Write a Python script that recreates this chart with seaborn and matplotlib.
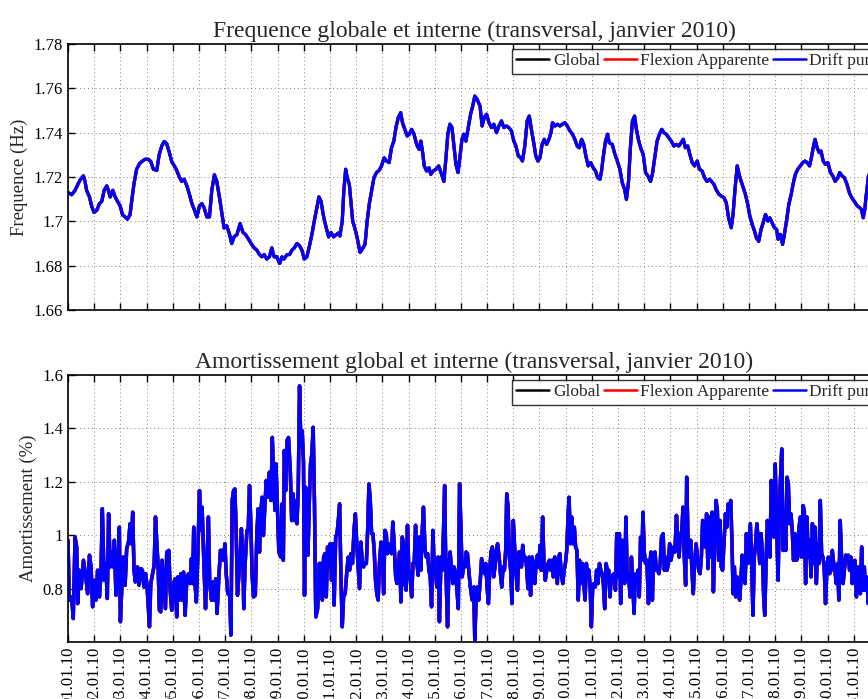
import pandas as pd
import matplotlib
matplotlib.use("agg")
import matplotlib.pyplot as plt
import matplotlib.dates as mdates
import seaborn as sns

# --- frequency (top panel), days since 01.01.2010 and Hz ---
freq_days = [
    0.00, 0.14, 0.27, 0.39, 0.48, 0.59, 0.65, 0.71, 0.82, 0.90,
    0.99, 1.10, 1.20, 1.29, 1.38, 1.48, 1.54, 1.61, 1.71, 1.80,
    1.89, 1.99, 2.08, 2.18, 2.27, 2.37, 2.43, 2.52, 2.62, 2.73,
    2.82, 2.94, 3.07, 3.16, 3.26, 3.39, 3.48, 3.58, 3.67, 3.77,
    3.87, 3.96, 4.06, 4.15, 4.25, 4.34, 4.43, 4.54, 4.64, 4.73,
    4.83, 4.92, 5.02, 5.11, 5.20, 5.30, 5.40, 5.49, 5.59, 5.68,
    5.78, 5.87, 5.96, 6.06, 6.17, 6.25, 6.34, 6.45, 6.57, 6.68,
    6.78, 6.89, 6.99, 7.11, 7.21, 7.31, 7.40, 7.49, 7.59, 7.69,
    7.78, 7.87, 7.97, 8.08, 8.17, 8.25, 8.36, 8.46, 8.55, 8.64,
    8.74, 8.84, 8.93, 9.02, 9.12, 9.22, 9.31, 9.40, 9.50, 9.58,
    9.66, 9.76, 9.86, 9.95, 10.04, 10.14, 10.24, 10.37,
    10.38, 10.47, 10.53, 10.60, 10.66, 10.74, 10.80, 10.87, 10.95, 11.04,
    11.15, 11.23, 11.34, 11.42, 11.50, 11.59, 11.68, 11.78, 11.88, 11.97,
    12.07, 12.16, 12.26, 12.35, 12.44, 12.52, 12.61, 12.70, 12.77, 12.86,
    12.95, 13.03, 13.12, 13.21, 13.31, 13.40, 13.47, 13.54, 13.60, 13.69,
    13.78, 13.85, 13.94, 14.05, 14.15, 14.24, 14.35, 14.43, 14.50, 14.58,
    14.66, 14.73, 14.81, 14.89, 14.96, 15.04, 15.11, 15.19, 15.28, 15.37,
    15.45, 15.53, 15.62, 15.73, 15.81, 15.89, 15.98, 16.07, 16.17, 16.26,
    16.36, 16.45, 16.55, 16.64, 16.74, 16.83, 16.93, 17.02, 17.10, 17.19,
    17.28, 17.35, 17.44, 17.53, 17.61, 17.70, 17.79, 17.86, 17.94, 18.02,
    18.10, 18.18, 18.27, 18.36, 18.44, 18.50, 18.59, 18.68, 18.78, 18.87,
    18.97, 19.06, 19.16, 19.26, 19.35, 19.44, 19.52, 19.61, 19.69, 19.77,
    19.86, 19.95, 20.05, 20.14, 20.22, 20.31, 20.37, 20.43, 20.52, 20.60, 20.66,
    20.78, 20.86, 20.97, 21.07, 21.16, 21.25, 21.32, 21.40, 21.47, 21.55,
    21.63, 21.70, 21.79, 21.88, 21.96, 22.05, 22.14, 22.24, 22.31, 22.40,
    22.49, 22.58, 22.67, 22.75, 22.84, 22.94, 23.03, 23.13, 23.23, 23.32,
    23.41, 23.49, 23.57, 23.66, 23.74, 23.83, 23.92, 24.02, 24.11, 24.21,
    24.30, 24.40, 24.49, 24.57, 24.66, 24.74, 24.85, 24.94, 25.04, 25.13,
    25.22, 25.32, 25.39, 25.47, 25.55, 25.62, 25.70, 25.78, 25.86, 25.95,
    26.03, 26.12, 26.21, 26.28, 26.37, 26.46, 26.54, 26.63, 26.72, 26.79,
    26.88, 26.97, 27.05, 27.11, 27.20, 27.28, 27.35, 27.43, 27.52, 27.61,
    27.68, 27.77, 27.86, 27.96, 28.05, 28.14, 28.22, 28.31, 28.38, 28.45,
    28.52, 28.60, 28.68, 28.75, 28.83, 28.92, 29.01, 29.11, 29.20, 29.29,
    29.39, 29.46, 29.55, 29.64, 29.74, 29.83, 29.92, 30.02, 30.13, 30.22,
    30.29, 30.36, 30.42, 30.47, 30.51, 30.56, 30.62,
]
freq_hz = [
    1.713, 1.712, 1.714, 1.717, 1.719, 1.7205, 1.718, 1.714, 1.711, 1.707,
    1.704, 1.705, 1.708, 1.709, 1.714, 1.716, 1.714, 1.711, 1.714, 1.711,
    1.709, 1.707, 1.703, 1.702, 1.701, 1.703, 1.709, 1.717, 1.7235, 1.726,
    1.727, 1.728, 1.728, 1.727, 1.7235, 1.723, 1.730, 1.734, 1.736, 1.735,
    1.731, 1.727, 1.725, 1.723, 1.720, 1.718, 1.719, 1.716, 1.712, 1.708,
    1.705, 1.702, 1.707, 1.708, 1.706, 1.702, 1.702, 1.714, 1.721, 1.718,
    1.711, 1.704, 1.697, 1.698, 1.694, 1.690, 1.693, 1.694, 1.699, 1.695,
    1.694, 1.692, 1.690, 1.688, 1.687, 1.685, 1.684, 1.685, 1.683, 1.684,
    1.688, 1.684, 1.684, 1.681, 1.684, 1.683, 1.685, 1.685, 1.687, 1.688,
    1.690, 1.689, 1.687, 1.683, 1.684, 1.689, 1.694, 1.700, 1.706, 1.711,
    1.709, 1.702, 1.697, 1.693, 1.695, 1.693, 1.694, 1.695,
    1.6934, 1.700, 1.7137, 1.7235, 1.7197, 1.7167, 1.709, 1.700, 1.697, 1.6926,
    1.686, 1.6874, 1.6896, 1.700, 1.7077, 1.7137, 1.7197, 1.722, 1.723, 1.725,
    1.7287, 1.7272, 1.7265, 1.7332, 1.7362, 1.7423, 1.7468, 1.749, 1.7445, 1.7415,
    1.7385, 1.7393, 1.7415, 1.7393, 1.7347, 1.7325, 1.7362, 1.731, 1.725, 1.7227,
    1.7242, 1.7212, 1.7227, 1.7235, 1.725, 1.722, 1.718, 1.7287, 1.7393, 1.7438,
    1.7423, 1.7347, 1.7257, 1.722, 1.7287, 1.737, 1.7393, 1.7362, 1.7423, 1.7483,
    1.752, 1.7565, 1.755, 1.752, 1.743, 1.7468, 1.7483, 1.7445, 1.7423, 1.7438,
    1.740, 1.743, 1.7453, 1.7423, 1.743, 1.7423, 1.7408, 1.7362, 1.734, 1.7295,
    1.7287, 1.7272, 1.734, 1.7453, 1.7475, 1.7408, 1.7347, 1.7295, 1.7272, 1.7287,
    1.7347, 1.737, 1.7347, 1.737, 1.740, 1.7445, 1.743, 1.7438, 1.743, 1.7438,
    1.7445, 1.743, 1.7408, 1.7393, 1.737, 1.734, 1.7332, 1.737, 1.7347, 1.7295,
    1.725, 1.7265, 1.7242, 1.7227, 1.7197, 1.719, 1.7227, 1.7287, 1.7362, 1.7393, 1.7355,
    1.7347, 1.731, 1.7272, 1.7235, 1.7174, 1.7144, 1.7099, 1.718, 1.7332, 1.7453,
    1.7475, 1.7415, 1.7362, 1.7325, 1.7302, 1.722, 1.7205, 1.718, 1.7212, 1.7287,
    1.7362, 1.7393, 1.7415, 1.740, 1.7393, 1.7377, 1.7362, 1.734, 1.7347, 1.734,
    1.7355, 1.737, 1.7332, 1.734, 1.7302, 1.7265, 1.725, 1.7272, 1.7235, 1.7227,
    1.7197, 1.718, 1.719, 1.718, 1.7167, 1.7144, 1.7122, 1.7114, 1.7107, 1.7084,
    1.7016, 1.6971, 1.7031, 1.7152, 1.725, 1.7212, 1.718, 1.7152, 1.7122, 1.7077,
    1.7024, 1.6986, 1.6956, 1.6926, 1.691, 1.6964, 1.6994, 1.7031, 1.7001, 1.7016,
    1.6994, 1.6971, 1.6964, 1.6919, 1.6941, 1.6896, 1.6941, 1.7001, 1.7077, 1.7122,
    1.7167, 1.7212, 1.7235, 1.725, 1.7265, 1.7272, 1.7265, 1.725, 1.7287, 1.7332,
    1.737, 1.7332, 1.731, 1.7317, 1.7272, 1.7257, 1.7265, 1.722, 1.7205, 1.718,
    1.7197, 1.722, 1.7205, 1.7197, 1.7167, 1.7129, 1.7107, 1.709, 1.707, 1.7062,
    1.7054, 1.7016, 1.7054, 1.7114, 1.7152, 1.7205, 1.722,
]

# --- damping (bottom panel), days since 01.01.2010 and % ---
damp_days = [
    0.00, 0.05, 0.14, 0.20, 0.27, 0.33, 0.37, 0.43, 0.50, 0.59,
    0.68, 0.75, 0.82, 0.88, 0.94, 1.01, 1.07, 1.13, 1.20, 1.26,
    1.31, 1.38, 1.44, 1.50, 1.55, 1.61, 1.67, 1.73, 1.77, 1.83,
    1.90, 1.96, 2.00, 2.06, 2.11, 2.18, 2.24, 2.31, 2.37, 2.42,
    2.47, 2.52, 2.57, 2.65, 2.71, 2.78, 2.84, 2.90, 2.96, 3.01,
    3.06, 3.11, 3.16, 3.22, 3.29, 3.34, 3.39, 3.44, 3.49, 3.54,
    3.59, 3.66, 3.72, 3.77, 3.85, 3.90, 3.96, 4.03, 4.09, 4.15,
    4.20, 4.25, 4.31, 4.36, 4.41, 4.47, 4.54, 4.61, 4.66, 4.71,
    4.76, 4.80, 4.85, 4.90, 4.96, 5.02, 5.07, 5.12, 5.18, 5.25,
    5.30, 5.36, 5.41, 5.48, 5.53, 5.58, 5.64, 5.69, 5.76, 5.82,
    5.89, 5.94, 5.99, 6.04, 6.10, 6.17, 6.22, 6.27, 6.32, 6.37,
    6.42, 6.47, 6.52, 6.57, 6.62, 6.68, 6.71, 6.76, 6.83, 6.88,
    6.93, 6.98, 7.03, 7.08, 7.15, 7.21, 7.26, 7.31, 7.36, 7.41,
    7.46, 7.52, 7.57, 7.62, 7.69,
    7.75, 7.80, 7.85, 7.90, 7.94, 8.00, 8.05, 8.12, 8.17, 8.22,
    8.26, 8.31, 8.36, 8.42, 8.49, 8.54, 8.59, 8.64, 8.69, 8.74,
    8.79, 8.84, 8.89, 8.94, 8.99, 9.03, 9.07, 9.12, 9.16, 9.21,
    9.26, 9.31, 9.36, 9.41, 9.46, 9.53, 9.59, 9.66, 9.71, 9.76,
    9.81, 9.86, 9.91, 9.96, 10.01, 10.06, 10.11, 10.16, 10.22, 10.27,
    10.32, 10.37, 10.42, 10.47, 10.52, 10.58, 10.65, 10.70, 10.75, 10.80,
    10.86, 10.92, 10.97, 11.03, 11.08, 11.13, 11.18, 11.23, 11.28, 11.34,
    11.39, 11.44, 11.49, 11.54, 11.59, 11.64, 11.69, 11.74, 11.79, 11.84,
    11.89, 11.95, 12.00, 12.05, 12.10, 12.15, 12.20, 12.25, 12.30, 12.35,
    12.40, 12.45, 12.51, 12.56, 12.61, 12.66, 12.71, 12.76, 12.81, 12.86,
    12.91, 12.96, 13.01, 13.07, 13.12, 13.17, 13.22, 13.27, 13.32, 13.37,
    13.42, 13.47, 13.52, 13.57, 13.63, 13.68, 13.73, 13.78, 13.83, 13.88,
    13.93, 13.98, 14.03, 14.08, 14.13, 14.18, 14.24, 14.29, 14.34, 14.38,
    14.41, 14.45, 14.49, 14.54, 14.59, 14.64, 14.69, 14.74, 14.80, 14.85,
    14.90, 14.95, 15.00, 15.05, 15.10, 15.15, 15.20, 15.25, 15.30, 15.36,
    15.43, 15.49, 15.53, 15.58, 15.62, 15.68, 15.74, 15.79, 15.85, 15.90,
    15.95, 16.00, 16.05, 16.10, 16.15, 16.20, 16.25, 16.30, 16.35, 16.40,
    16.46, 16.51, 16.56, 16.61, 16.66, 16.71, 16.75, 16.80, 16.85, 16.90,
    16.95, 17.00, 17.05, 17.10, 17.16, 17.21, 17.26, 17.31, 17.36, 17.41,
    17.46, 17.51, 17.56, 17.61, 17.66, 17.72, 17.77, 17.82, 17.87, 17.92,
    17.97, 18.02, 18.07, 18.12, 18.17, 18.22, 18.28, 18.33, 18.38, 18.43,
    18.48, 18.53, 18.58, 18.63, 18.68, 18.73, 18.78, 18.83, 18.89, 18.94,
    18.99, 19.04, 19.09, 19.13, 19.18, 19.23, 19.28, 19.33, 19.38, 19.43,
    19.48, 19.53, 19.59, 19.64, 19.69, 19.74, 19.79, 19.84, 19.89, 19.94,
    19.98, 20.03, 20.08, 20.13, 20.18, 20.23, 20.29, 20.34, 20.39, 20.44,
    20.49, 20.54, 20.59, 20.64, 20.69, 20.74, 20.79, 20.85, 20.90, 20.95,
    21.00, 21.05, 21.10, 21.15, 21.20, 21.25, 21.30, 21.35, 21.40, 21.46,
    21.51, 21.56, 21.61, 21.66, 21.71, 21.76, 21.81, 21.86, 21.91, 21.95,
    22.00, 22.05, 22.10, 22.16, 22.21, 22.26, 22.31, 22.36, 22.41, 22.46,
    22.51, 22.56, 22.61, 22.66, 22.72, 22.77, 22.82, 22.87, 22.92, 22.97,
    23.02, 23.07, 23.12, 23.17, 23.23, 23.28, 23.33, 23.38, 23.43, 23.48,
    23.53, 23.58, 23.62, 23.67, 23.72, 23.77, 23.82, 23.87, 23.92, 23.98,
    24.03, 24.08, 24.13, 24.18, 24.23, 24.28, 24.33, 24.38, 24.43, 24.48,
    24.54, 24.59, 24.64, 24.69, 24.74, 24.79, 24.84, 24.89, 24.94, 24.99,
    25.04, 25.10, 25.15, 25.20, 25.25, 25.30, 25.35, 25.39, 25.44, 25.49,
    25.54, 25.59, 25.64, 25.69, 25.74, 25.80, 25.85, 25.90, 25.95, 26.00,
    26.05, 26.10, 26.15, 26.20, 26.25, 26.30, 26.36, 26.41, 26.46, 26.51,
    26.56, 26.60, 26.65, 26.70, 26.75, 26.80, 26.85, 26.90, 26.95, 27.00,
    27.05, 27.11, 27.16, 27.21, 27.25, 27.30, 27.35, 27.40, 27.45, 27.50,
    27.55, 27.60, 27.65, 27.70, 27.75, 27.81, 27.86, 27.91, 27.96, 28.01,
    28.06, 28.11, 28.16, 28.21, 28.26, 28.31, 28.37, 28.42, 28.47, 28.52,
    28.57, 28.62, 28.67, 28.72, 28.77, 28.82, 28.87, 28.92, 28.98, 29.03,
    29.08, 29.13, 29.18, 29.23, 29.28, 29.33, 29.38, 29.43, 29.48, 29.54,
    29.59, 29.64, 29.69, 29.74, 29.79, 29.84, 29.89, 29.94, 29.99, 30.04,
    30.10, 30.15, 30.20, 30.25, 30.30, 30.35, 30.40, 30.45, 30.50, 30.55,
    30.62,
]
damp_pct = [
    0.981, 0.757, 0.769, 0.688, 0.993, 0.956, 0.744, 0.869, 0.800, 0.906,
    0.844, 0.781, 0.925, 0.881, 0.732, 0.831, 0.757, 0.869, 0.769, 0.856,
    1.099, 0.831, 0.894, 0.763, 1.080, 0.881, 0.937, 0.881, 0.981, 0.775,
    0.869, 1.030, 0.676, 0.819, 0.918, 0.813, 0.949, 0.974, 1.043, 0.968,
    1.086, 0.869, 0.825, 0.881, 0.813, 0.875, 0.869, 0.806, 0.856, 0.819,
    0.744, 0.657, 0.819, 0.850, 0.887, 1.068, 0.968, 0.887, 0.719, 0.713,
    0.906, 0.806, 0.725, 0.937, 0.943, 0.794, 0.719, 0.819, 0.837, 0.694,
    0.844, 0.757, 0.856, 0.757, 0.862, 0.700, 0.844, 0.856, 0.819, 0.912,
    0.819, 1.030, 0.819, 0.750, 0.937, 1.167, 1.018, 1.105, 0.918, 0.725,
    0.881, 1.068, 0.819, 0.757, 0.825, 0.757, 0.837, 0.707, 0.844, 0.943,
    0.943, 0.906, 0.968, 0.856, 0.781, 0.781, 0.626, 1.130, 1.167, 1.173,
    1.018, 0.775, 0.844, 0.906, 1.024, 0.906, 0.725, 0.887, 1.018, 1.018,
    1.186, 1.043, 0.850, 0.769, 0.775, 1.006, 1.099, 0.937, 1.086, 1.142,
    0.999, 1.117, 1.205, 1.142, 1.236,
    1.130, 1.366, 1.217, 1.093, 1.267, 1.093, 0.937, 0.918, 1.117, 0.906,
    1.317, 1.167, 1.354, 1.366, 1.230, 1.055, 1.155, 1.055, 1.130, 1.043,
    1.167, 1.559, 1.329, 1.391, 1.273, 0.775, 1.180, 1.093, 0.925, 1.117,
    1.267, 1.304, 1.404, 1.117, 0.694, 0.725, 0.894, 0.894, 0.757, 0.918,
    0.931, 0.769, 0.956, 0.881, 0.968, 0.831, 0.968, 0.738, 0.993, 1.006,
    1.055, 1.117, 0.844, 0.657, 0.769, 0.781, 0.869, 0.918, 0.869, 0.931,
    0.894, 1.018, 1.080, 0.956, 0.881, 0.800, 0.974, 0.906, 0.881, 0.894,
    0.894, 1.018, 1.192, 1.130, 1.006, 1.006, 0.943, 0.831, 0.781, 0.757,
    0.894, 0.974, 0.943, 0.781, 1.018, 1.006, 0.931, 0.968, 0.962, 0.931,
    1.049, 0.968, 0.844, 0.819, 0.869, 0.937, 0.750, 0.993, 0.968, 0.819,
    0.794, 1.037, 0.869, 0.831, 0.769, 0.894, 0.900, 1.037, 0.894, 0.850,
    0.993, 0.869, 1.006, 1.105, 0.943, 0.918, 0.931, 0.869, 0.844, 0.732,
    1.018, 0.881, 0.869, 0.806, 0.918, 0.676, 0.918, 0.869, 1.030, 1.186,
    0.968, 0.794, 0.657, 0.881, 0.937, 0.869, 0.819, 0.881, 0.856, 0.794,
    0.725, 1.192, 1.030, 0.844, 0.881, 0.881, 0.937, 0.931, 0.869, 0.806,
    0.757, 0.806, 0.607, 0.757, 0.806, 0.757, 0.831, 0.912, 0.881, 0.856,
    0.894, 0.806, 0.744, 0.869, 0.937, 0.956, 0.844, 0.881, 0.943, 0.968,
    0.918, 0.856, 0.806, 0.881, 0.869, 0.943, 1.155, 1.105, 0.918, 0.869,
    0.744, 1.055, 0.956, 0.869, 0.794, 0.937, 0.937, 0.881, 0.962, 0.906,
    0.918, 0.881, 0.800, 0.918, 0.775, 0.918, 0.881, 0.819, 0.894, 0.925,
    0.881, 0.962, 0.869, 1.068, 0.894, 0.831, 0.869, 0.894, 0.906, 0.869,
    0.906, 0.844, 0.918, 0.869, 0.819, 0.918, 0.931, 0.856, 0.819, 0.869,
    0.894, 0.943, 1.068, 1.142, 0.968, 1.068, 0.968, 1.030, 0.956, 0.943,
    0.757, 0.906, 0.819, 0.894, 0.819, 0.757, 0.894, 0.844, 0.869, 0.794,
    0.657, 0.806, 0.819, 0.806, 0.869, 0.819, 0.894, 0.869, 0.856, 0.819,
    0.725, 0.894, 0.869, 0.869, 0.769, 0.844, 0.850, 0.856, 0.794, 1.006,
    0.844, 1.006, 0.744, 0.981, 0.894, 0.819, 1.068, 0.831, 0.856, 0.769,
    0.918, 0.825, 0.707, 0.856, 0.819, 0.869, 0.769, 0.993, 0.906, 1.086,
    0.937, 0.894, 0.906, 0.744, 0.894, 0.937, 0.757, 0.931, 0.937, 0.869,
    0.869, 0.856, 0.894, 0.993, 1.006, 0.869, 0.918, 0.869, 0.894, 0.968,
    0.906, 0.937, 0.956, 0.937, 1.074, 0.981, 0.918, 1.006, 1.012, 1.105,
    0.918, 0.813, 1.217, 0.981, 0.918, 0.981, 0.869, 0.781, 0.894, 0.968,
    0.918, 0.869, 0.856, 0.918, 1.055, 1.018, 0.956, 1.080, 0.875, 1.068,
    0.918, 1.086, 0.788, 0.981, 1.130, 1.093, 0.906, 1.055, 0.881, 0.869,
    0.968, 1.080, 1.030, 1.117, 1.093, 1.130, 0.974, 0.781, 0.881, 0.769,
    0.844, 0.794, 0.757, 0.831, 0.925, 0.844, 0.819, 1.006, 0.894, 0.968,
    1.043, 0.894, 0.700, 0.918, 0.968, 1.043, 0.968, 0.894, 1.006, 0.931,
    0.769, 0.700, 0.894, 1.055, 1.018, 0.918, 1.205, 1.117, 0.993, 1.267,
    1.055, 0.831, 1.117, 1.229, 1.323, 0.943, 1.093, 0.943, 1.217, 1.192,
    1.043, 1.080, 1.018, 0.906, 1.006, 0.906, 0.918, 1.030, 1.068, 0.918,
    1.111, 1.093, 0.819, 1.068, 0.918, 0.981, 0.844, 1.043, 0.894, 1.030,
    0.819, 0.968, 0.894, 1.130, 0.931, 0.918, 0.881, 0.744, 0.894, 0.918,
    0.856, 0.869, 0.943, 0.894, 0.869, 0.819, 0.894, 0.757, 1.055, 0.894,
    0.819, 0.869, 0.925, 0.918, 0.925, 0.869, 0.918, 0.819, 0.881, 0.906,
    0.769, 0.881, 0.869, 0.781, 0.956, 0.794, 0.881, 0.794, 0.844, 0.744,
    0.800,
]

# the three estimates lie on top of each other in the source
series_names = ["Global", "Flexion Apparente", "Drift pur"]
series_colors = ["#000000", "#ff0000", "#0000ff"]

start = pd.Timestamp("2010-01-01")
freq_df = pd.DataFrame({"t": start + pd.to_timedelta(freq_days, unit="D"), "v": freq_hz})
damp_df = pd.DataFrame({"t": start + pd.to_timedelta(damp_days, unit="D"), "v": damp_pct})

sns.set_style("ticks")
plt.rcParams["font.family"] = ["Liberation Serif", "DejaVu Serif"]
plt.rcParams["xtick.direction"] = "in"
plt.rcParams["ytick.direction"] = "in"
plt.rcParams["xtick.top"] = True
plt.rcParams["ytick.right"] = True

W, H = 868, 699
fig = plt.figure(figsize=(W / 100, H / 100), dpi=100)

# axes run past the right edge, as in the cropped source
ax1 = fig.add_axes([68 / W, 1 - 310 / H, 812 / W, 266 / H])
ax2 = fig.add_axes([68 / W, 1 - 642 / H, 812 / W, 267 / H])

panels = [
    (ax1, freq_df, "Frequence globale et interne (transversal, janvier 2010)",
     "Frequence (Hz)", (1.66, 1.78), [1.66, 1.68, 1.70, 1.72, 1.74, 1.76, 1.78], 2.3),
    (ax2, damp_df, "Amortissement global et interne (transversal, janvier 2010)",
     "Amortissement (%)", (0.6, 1.6), [0.8, 1.0, 1.2, 1.4, 1.6], 2.5),
]

for ax, df, title, ylabel, ylim, yticks, lw in panels:
    for name, color in zip(series_names, series_colors):
        sns.lineplot(data=df, x="t", y="v", ax=ax, color=color, lw=lw,
                     label=name, estimator=None, sort=False)
    ax.set_xlim(pd.Timestamp("2010-01-01"), pd.Timestamp("2010-02-01"))
    ax.set_ylim(*ylim)
    ax.set_yticks(yticks)
    ax.set_yticklabels([f"{t:g}" for t in yticks])
    ax.xaxis.set_major_locator(mdates.DayLocator())
    ax.xaxis.set_major_formatter(mdates.DateFormatter("%d.%m.%y"))
    ax.grid(True, ls=(0, (1, 3)), color="#808080", lw=0.7)
    ax.tick_params(labelsize=12, length=5, width=1, colors="black")
    for s in ax.spines.values():
        s.set_linewidth(1.2)
        s.set_color("black")
    ax.set_title(title, fontsize=17, pad=5)
    ax.set_xlabel("")
    ax.set_ylabel(ylabel, fontsize=13.5, labelpad=4)
    leg = ax.legend(loc="upper left", bbox_to_anchor=((512 - 68) / 812, 0.982),
                    ncol=3, fontsize=12.5, frameon=True, fancybox=False,
                    handlelength=1.9, handletextpad=0.2, columnspacing=0.2,
                    borderpad=0.25, borderaxespad=0.0)
    leg.get_frame().set_edgecolor("black")
    leg.get_frame().set_linewidth(1.0)
    for line in leg.get_lines():
        line.set_linewidth(1.8)

ax1.tick_params(labelbottom=False)
plt.setp(ax2.get_xticklabels(), rotation=90, ha="center", va="top")

fig.savefig("out.png", dpi=100)
